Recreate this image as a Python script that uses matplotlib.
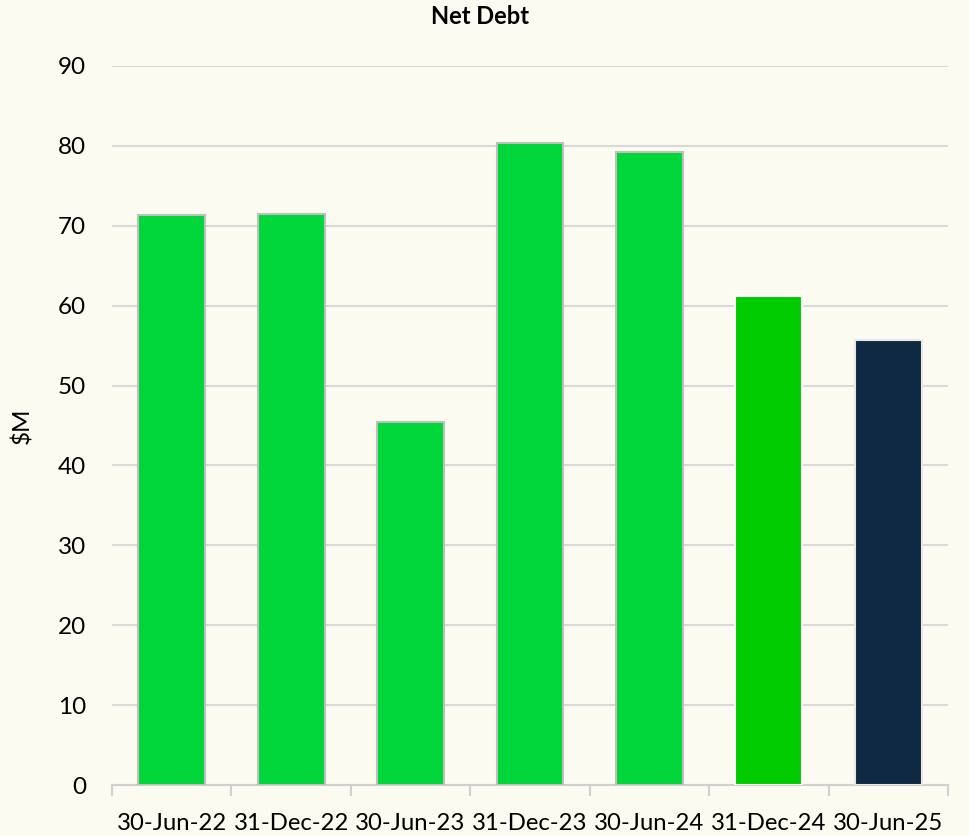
import matplotlib
matplotlib.use("Agg")
import matplotlib.pyplot as plt

categories = ["30-Jun-22", "31-Dec-22", "30-Jun-23", "31-Dec-23", "30-Jun-24", "31-Dec-24", "30-Jun-25"]
values = [71.3, 71.5, 45.4, 80.3, 79.2, 61.2, 55.7]
colors = ["#00D639", "#00D639", "#00D639", "#00D639", "#00D639", "#00CC00", "#0F2942"]
edges = ["#BFBFBF", "#BFBFBF", "#BFBFBF", "#BFBFBF", "#BFBFBF", "#FFFFFF", "#E8E8E8"]
yticks = list(range(0, 91, 10))

plt.rcParams['font.family'] = ['Lato', 'DejaVu Sans']
bg = "#FBFBF2"
fig = plt.figure(figsize=(9.69, 8.36), dpi=100, facecolor=bg)
ax = fig.add_axes([112/969, 1-785/836, (948-112)/969, (785-66)/836])
ax.set_facecolor(bg)

x = list(range(len(categories)))
ax.bar(x, values, width=0.56, color=colors, edgecolor=edges, linewidth=1.5, zorder=3)

ax.set_xlim(-0.5, len(categories) - 0.5)
ax.set_ylim(0, 90)
ax.set_yticks(yticks)
ax.set_yticklabels([str(v) for v in yticks], fontsize=17.5)
ax.set_xticks(x)
ax.set_xticklabels(categories, fontsize=17.2)
ax.set_xticks([i - 0.5 for i in range(len(categories) + 1)], minor=True)
ax.tick_params(axis='x', which='major', length=0, pad=20)
ax.tick_params(axis='x', which='minor', length=8, color="#D0D0D0", width=1.5)
ax.tick_params(axis='y', length=0, pad=18.7)
ax.grid(axis='y', color="#D9D9D9", linewidth=1.5, zorder=0)
for s in ['top', 'right', 'left']:
    ax.spines[s].set_visible(False)
ax.spines['bottom'].set_color("#D0D0D0")
ax.spines['bottom'].set_linewidth(1.5)

ax.set_ylabel("$M", fontsize=17.5)
ax.yaxis.set_label_coords((33 - 112) / 836, 0.5)
fig.text(480/969, 1 - 17/836, "Net Debt", ha='center', va='center',
         fontsize=17, fontweight='bold')

fig.savefig("out.png", dpi=100, facecolor=bg)
